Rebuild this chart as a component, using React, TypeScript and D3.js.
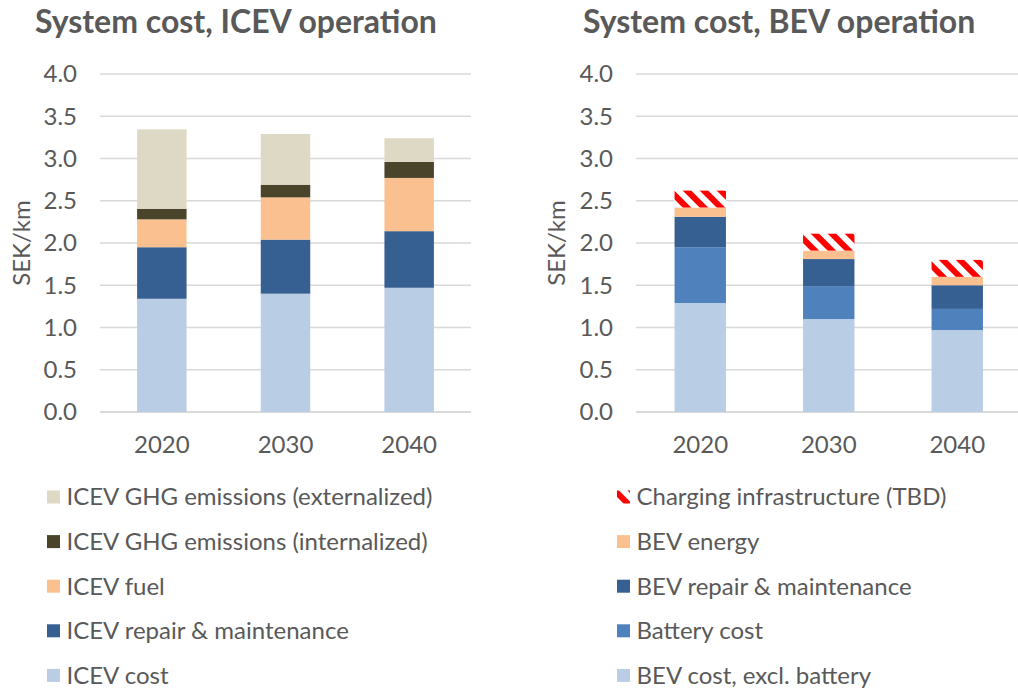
import * as d3 from "d3";

// categories and values (SEK/km)
const years = ["2020", "2030", "2040"];

const icevCost = [1.34, 1.40, 1.47];
const icevRepair = [0.61, 0.64, 0.67];
const icevFuel = [0.33, 0.50, 0.63];
const icevGhgInternal = [0.125, 0.15, 0.19];
const icevGhgExternal = [0.94, 0.60, 0.28];

const bevCostExBattery = [1.29, 1.10, 0.97];
const batteryCost = [0.66, 0.39, 0.25];
const bevRepair = [0.36, 0.32, 0.28];
const bevEnergy = [0.11, 0.10, 0.10];
const chargingInfra = [0.20, 0.20, 0.20];

const yTicks = [0, 0.5, 1, 1.5, 2, 2.5, 3, 3.5, 4];

type Series = { key: string; name: string; values: number[]; fill: string };

// bottom to top
const icevSeries: Series[] = [
  { key: "cost", name: "ICEV cost", values: icevCost, fill: "#B9CDE5" },
  { key: "repair", name: "ICEV repair & maintenance", values: icevRepair, fill: "#366092" },
  { key: "fuel", name: "ICEV fuel", values: icevFuel, fill: "#FAC090" },
  { key: "ghgInt", name: "ICEV GHG emissions (internalized)", values: icevGhgInternal, fill: "#4A452A" },
  { key: "ghgExt", name: "ICEV GHG emissions (externalized)", values: icevGhgExternal, fill: "#DDD9C4" },
];

const bevSeries: Series[] = [
  { key: "base", name: "BEV cost, excl. battery", values: bevCostExBattery, fill: "#B9CDE5" },
  { key: "battery", name: "Battery cost", values: batteryCost, fill: "#4F81BD" },
  { key: "repair", name: "BEV repair & maintenance", values: bevRepair, fill: "#366092" },
  { key: "energy", name: "BEV energy", values: bevEnergy, fill: "#FAC090" },
  { key: "charging", name: "Charging infrastructure (TBD)", values: chargingInfra, fill: "url(#hatch)" },
];

const textColor = "#595959";
const gridColor = "#D9D9D9";
const font = "Lato, 'Open Sans', sans-serif";

function Panel({ title, series, x0, x1, titleX, labelX, legendX }: {
  title: string; series: Series[]; x0: number; x1: number; titleX: number; labelX: number; legendX: number;
}) {
  const y = d3.scaleLinear().domain([0, 4]).range([412, 74]);
  const x = d3.scaleBand().domain(years).range([x0, x1]).paddingInner(0.6).paddingOuter(0.3);

  // build rows for d3.stack from the named arrays
  const rows = years.map((yr, i) => {
    const r: Record<string, number> = {};
    series.forEach(s => (r[s.key] = s.values[i]));
    return r;
  });
  const stacked = d3.stack<Record<string, number>>().keys(series.map(s => s.key))(rows);

  const legend = [...series].reverse();

  return (
    <g fontFamily={font} fill={textColor}>
      <text x={titleX} y={33} fontSize={32} fontWeight="bold">{title}</text>

      {yTicks.map(t => (
        <g key={t}>
          <line x1={x0} x2={x1} y1={y(t)} y2={y(t)} stroke={gridColor} strokeWidth={t === 0 ? 2 : 1.4} />
          <text x={x0 - 23} y={y(t)} dy="0.35em" textAnchor="end" fontSize={24}>{t.toFixed(1)}</text>
        </g>
      ))}

      <text transform={`translate(${labelX},243) rotate(-90)`} textAnchor="middle" dy="0.35em" fontSize={24}>SEK/km</text>

      {stacked.map((layer, li) => (
        <g key={layer.key} fill={series[li].fill}>
          {layer.map((d, i) => (
            <rect key={i} x={x(years[i])} width={x.bandwidth()} y={y(d[1])} height={y(d[0]) - y(d[1])} />
          ))}
        </g>
      ))}

      {years.map(yr => (
        <text key={yr} x={(x(yr) ?? 0) + x.bandwidth() / 2} y={445} dy="0.35em" textAnchor="middle" fontSize={24}>{yr}</text>
      ))}

      {legend.map((s, i) => (
        <g key={s.key} transform={`translate(${legendX},${497 + i * 44.6})`}>
          <rect x={0} y={-6.5} width={13} height={13} fill={s.fill} />
          <text x={19.5} y={0} dy="0.35em" fontSize={24}>{s.name}</text>
        </g>
      ))}
    </g>
  );
}

export default function App() {
  return (
    <svg width={1018} height={689} style={{ position: "absolute", left: 0, top: 0, background: "#fff" }}>
      <defs>
        <pattern id="hatch" patternUnits="userSpaceOnUse" width={12} height={12} patternTransform="rotate(-45)">
          <rect width={12} height={12} fill="#fff" />
          <rect width={6} height={12} fill="#FF0000" />
        </pattern>
      </defs>
      <Panel title="System cost, ICEV operation" series={icevSeries} x0={100} x1={471} titleX={35} labelX={22} legendX={47} />
      <Panel title="System cost, BEV operation" series={bevSeries} x0={636} x1={1021.5} titleX={583} labelX={557} legendX={617} />
    </svg>
  );
}
